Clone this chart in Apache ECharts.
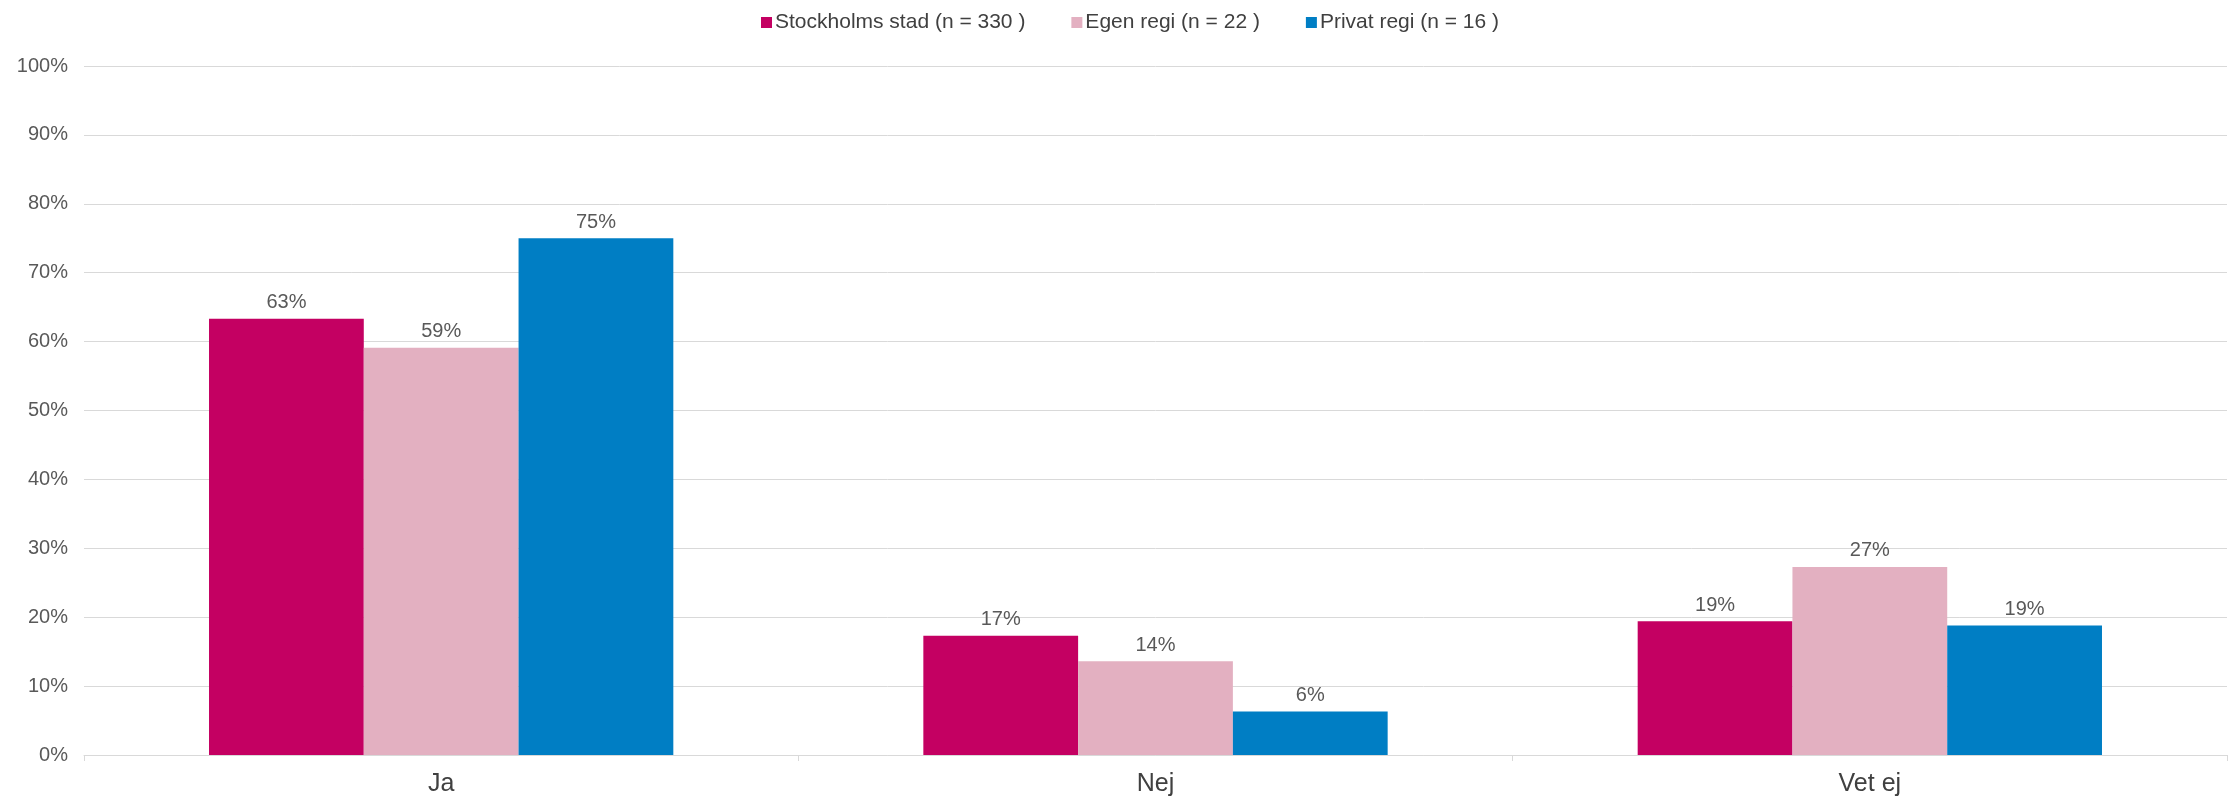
<!DOCTYPE html>
<html>
<head>
<meta charset="utf-8">
<style>
  html, body { margin: 0; padding: 0; background: #fff; }
  #main { width: 2234px; height: 799px; }
</style>
<script src="https://cdn.jsdelivr.net/npm/echarts@6/dist/echarts.min.js"></script>
</head>
<body>
<div id="main"></div>
<script>
const categories = ['Ja', 'Nej', 'Vet ej']
const seriesNames = ['Stockholms stad (n = 330 )', 'Egen regi (n = 22 )', 'Privat regi (n = 16 )']
const stockholm = [63.3, 17.3, 19.4]
const egenRegi = [59.1, 13.6, 27.3]
const privatRegi = [75.0, 6.3, 18.8]
const yTicks = [0, 10, 20, 30, 40, 50, 60, 70, 80, 90, 100]

const colors = ['#C40062', '#E3B0C1', '#007EC4']
const textColor = '#595959'

var myChart = echarts.init(document.getElementById('main'));

function makeSeries(name, data, i) {
    return {
        name: name,
        type: 'bar',
        data: data,
        barGap: '0%',
        barCategoryGap: '35%',
        itemStyle: { color: colors[i] },
        label: {
            show: true,
            position: 'top',
            distance: 6,
            color: textColor,
            fontSize: 20,
            fontFamily: 'Liberation Sans, Arial',
            formatter: function (p) {
                return Math.round(p.value) + '%'
            }
        }
    }
}

option = {
    animation: false,
    legend: {
        top: 7,
        left: 756,
        itemWidth: 11,
        itemHeight: 11,
        itemGap: 46,
        icon: 'rect',
        textStyle: {
            color: '#404040',
            fontSize: 21,
            padding: [0, 0, 0, -2],
            fontFamily: 'Liberation Sans, Arial'
        },
        data: seriesNames
    },
    grid: {
        left: 84,
        right: 7,
        top: 66,
        bottom: 44,
        containLabel: false
    },
    xAxis: {
        type: 'category',
        data: categories,
        axisLine: { lineStyle: { color: '#d9d9d9' } },
        axisTick: { show: true, length: 6, lineStyle: { color: '#d9d9d9' } },
        axisLabel: {
            color: '#404040',
            fontSize: 25,
            margin: 17,
            fontFamily: 'Liberation Sans, Arial'
        }
    },
    yAxis: {
        type: 'value',
        min: yTicks[0],
        max: yTicks[yTicks.length - 1],
        interval: 10,
        axisLine: { show: false },
        axisTick: { show: false },
        splitLine: { lineStyle: { color: '#d9d9d9', width: 1 } },
        axisLabel: {
            color: textColor,
            fontSize: 20,
            margin: 16,
            fontFamily: 'Liberation Sans, Arial',
            formatter: '{value}%'
        }
    },
    series: [
        makeSeries(seriesNames[0], stockholm, 0),
        makeSeries(seriesNames[1], egenRegi, 1),
        makeSeries(seriesNames[2], privatRegi, 2)
    ]
};

myChart.setOption(option);
</script>
</body>
</html>
